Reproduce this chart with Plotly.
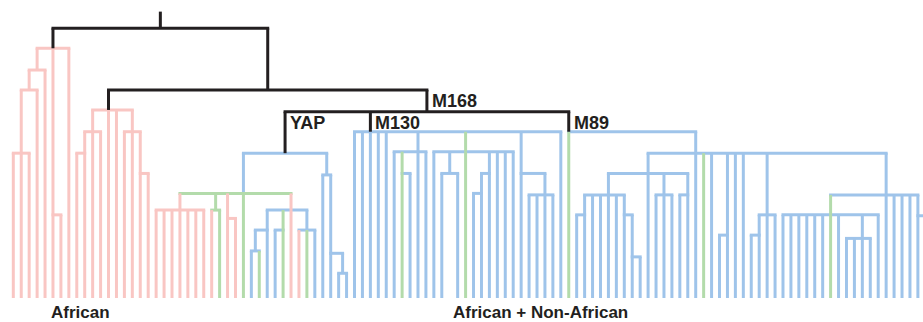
import plotly.graph_objects as go

# ---------------- data ----------------
# one code per leaf slot (left to right): A = African, N = non-African, M = mixed, '-' = empty slot
leaf_groups = (
    "AAAAAAAAAA"   # 0-9
    "AAAAAAAAAA"   # 10-19
    "AAAAAAMAAM"   # 20-29
    "NMNNMAAMNN"   # 30-39
    "NNNNNNNNNM"   # 40-49
    "NNNNN-NMNN"   # 50-59
    "NNNNNNNNNN"   # 60-69
    "MNNNNNNNNN"   # 70-79
    "NNNNNNNMNN"   # 80-89
    "NNNNNNNNNN"   # 90-99
    "NNNMNNNNNN"   # 100-109
    "NNNNNN"       # 110-115
)

# internal nodes: children (leaf slots or node names)
node_children = {
    "root": ["E", "n90"],
    "E": ["C", "D", 7],
    "C": ["B", 4],
    "B": ["A", 3],
    "A": [0, 1, 2],
    "D": [5, 6],
    "n90": ["J", "M168"],
    "J": ["G", 12, 13, "I"],
    "G": ["F", 10, 11],
    "F": [8, 9],
    "I": [14, 15, "H"],
    "H": [16, 17],
    "M168": ["YAP", "M130", "M89"],
    "YAP": ["Nn", "Q"],
    "Nn": ["K", "L", "Mn", 29, "S"],
    "K": [18, 19, 20, 21, 22, 23, 24],
    "L": [25, 26],
    "Mn": [27, 28],
    "S": ["T", "AB", 35, "U"],
    "T": ["V", 32],
    "V": [30, 31],
    "AB": [33, 34],
    "U": [36, 37, 38],
    "Q": [39, "P"],
    "P": [40, "O"],
    "O": [41, 42],
    "M130": [43, 44, 45, 46, 47, "W", "X", "AE", 69],
    "W": [48, "Z", 51, 52],
    "Z": [49, 50],
    "X": [53, "AA", 57, "AD", 61, 62, 63],
    "AA": [54, 56],
    "AD": ["AC", 60],
    "AC": [58, 59],
    "AE": [64, "AG"],
    "AG": [65, 66, 67, 68],
    "M89": [70, "AF"],
    "AF": ["AL", 86, 87, 88, "AP", 91, 92, "AR", "AU"],
    "AL": ["AK", 80, "AM", "AN"],
    "AK": ["AH", 73, 74, 75, 76, "AJ"],
    "AH": [71, 72],
    "AJ": [77, "AI"],
    "AI": [78, 79],
    "AM": [81, 82, 83],
    "AN": [84, 85],
    "AP": [89, 90],
    "AR": ["AQ", 95, 96],
    "AQ": [93, 94],
    "AU": ["AT", 110, 111, 112, 113, "AV"],
    "AT": [97, 98, 99, 100, 101, 102, 103, 104, "AS", 109],
    "AS": [105, 106, 107, 108],
    "AV": [114, 115],
}

# node depth values (leaves at 0)
node_height = {
    "root": 90.5, "E": 83.8, "C": 76.5, "B": 69.8, "A": 48.6, "D": 27.9,
    "n90": 69.8, "J": 63.1, "G": 55.8, "F": 48.6, "I": 55.8, "H": 41.8,
    "M168": 62.5, "YAP": 48.6, "Nn": 35.1, "K": 29.5, "L": 29.5, "Mn": 26.7,
    "S": 29.5, "T": 22.8, "V": 15.8, "AB": 22.8, "U": 22.8,
    "Q": 41.3, "P": 15.0, "O": 8.3,
    "M130": 55.8, "W": 49.1, "Z": 41.8, "X": 49.1, "AA": 41.8, "AD": 41.8, "AC": 35.1,
    "AE": 41.8, "AG": 34.6,
    "M89": 55.8, "AF": 48.6, "AL": 41.8, "AK": 34.6, "AH": 27.9, "AJ": 27.9, "AI": 13.8,
    "AM": 34.6, "AN": 34.6, "AP": 21.1, "AR": 27.9, "AQ": 21.1,
    "AU": 34.6, "AT": 27.9, "AS": 20.0, "AV": 27.6,
}
root_stem_top = 96.1

# group of each node's horizontal bar (default N)
bar_group = {
    "root": "K", "n90": "K", "M168": "K",
    "E": "A", "C": "A", "B": "A", "A": "A", "D": "A",
    "J": "A", "G": "A", "F": "A", "I": "A", "H": "A",
    "K": "A", "Mn": "A", "Nn": "M", "L": "M",
}
# group of each node's vertical stem (default N)
stem_group = {
    "root": "K", "E": "K", "n90": "K", "J": "K", "M168": "K",
    "YAP": "K", "M130": "K", "M89": "K",
    "C": "A", "B": "A", "A": "A", "D": "A", "G": "A", "F": "A", "I": "A", "H": "A",
    "K": "A", "Mn": "A", "S": "A",
    "L": "M", "AB": "M", "Z": "M", "X": "M", "AT": "M",
}
# stem drawn in line with this child (otherwise centred over the bar)
anchor_child = {
    "D": 5, "E": "D", "J": 12, "F": 9, "H": 16,
    "Nn": 29, "Mn": 27, "S": 35, "T": 32, "AB": 34, "P": 40,
    "M130": 45, "W": 51, "Z": 49, "X": 57, "AD": 60, "AC": 59,
    "M89": 70, "AE": 64, "AG": 67, "AF": 86, "AL": 80, "AK": 75, "AH": 72,
    "AJ": 77, "AI": 78, "AM": 82, "AN": 85, "AP": 90, "AR": 95, "AQ": 94,
    "AU": 110, "AT": 103, "AS": 107, "AV": 114,
}

node_labels = {"M168": "M168", "YAP": "YAP", "M130": "M130", "M89": "M89"}
group_labels = [("African", ["E", "J"]), ("African + Non-African", ["M168"])]

# ---------------- style ----------------
colors = {"A": "#F9C6C3", "N": "#9FC4EA", "M": "#B3DBAB", "K": "#231F20"}
draw_order = ["N", "M", "A", "K"]
W_PX, H_PX = 923, 322
MARGIN_B = 24
SLOT_PX = 7.935
FIRST_PX = 13.3
LINE_W = 3
Y_MAX = 100.0

x_min = -FIRST_PX / SLOT_PX
x_max = x_min + W_PX / SLOT_PX
half_x = (LINE_W / 2) / SLOT_PX

# ---------------- layout of the tree ----------------
parent = {}
for n, ch in node_children.items():
    for c in ch:
        parent[c] = n

xpos = {}


def place(n):
    if isinstance(n, int):
        return float(n)
    if n in xpos:
        return xpos[n]
    xs = [place(c) for c in node_children[n]]
    if n in anchor_child:
        x = place(anchor_child[n])
    else:
        x = (min(xs) + max(xs)) / 2
    xpos[n] = x
    return x


place("root")

segs = {g: ([], []) for g in colors}


def add(g, xs, ys):
    segs[g][0].extend(xs + [None])
    segs[g][1].extend(ys + [None])


for n, ch in node_children.items():
    h = node_height[n]
    cx = [place(c) for c in ch]
    add(bar_group.get(n, "N"), [min(cx) - half_x, max(cx) + half_x], [h, h])
    top = root_stem_top if n == "root" else node_height[parent[n]]
    add(stem_group.get(n, "N"), [xpos[n], xpos[n]], [h, top])

for i, g in enumerate(leaf_groups):
    if g == "-" or i not in parent:
        continue
    add(g, [float(i), float(i)], [0.0, node_height[parent[i]]])

fig = go.Figure()
for g in draw_order:
    xs, ys = segs[g]
    fig.add_trace(go.Scatter(x=xs, y=ys, mode="lines",
                             line=dict(color=colors[g], width=LINE_W),
                             hoverinfo="skip", showlegend=False))

font_family = "Liberation Sans, Arial, Helvetica, sans-serif"
annotations = []
for n, txt in node_labels.items():
    annotations.append(dict(
        x=xpos[n], y=node_height[parent[n]], xref="x", yref="y",
        text="<b>%s</b>" % txt, showarrow=False, xanchor="left", yanchor="middle",
        xshift=3, yshift=-11, font=dict(family=font_family, size=18, color="#231F20")))


def leaf_span(n):
    if isinstance(n, int):
        return [n]
    out = []
    for c in node_children[n]:
        out += leaf_span(c)
    return out


for txt, clades in group_labels:
    lv = []
    for c in clades:
        lv += leaf_span(c)
    annotations.append(dict(
        x=(min(lv) + max(lv)) / 2, y=0, xref="x", yref="paper",
        text="<b>%s</b>" % txt, showarrow=False, xanchor="center", yanchor="middle",
        yshift=-14, borderpad=0, font=dict(family=font_family, size=17, color="#231F20")))

fig.update_layout(
    width=W_PX, height=H_PX,
    margin=dict(l=0, r=0, t=0, b=MARGIN_B),
    paper_bgcolor="white", plot_bgcolor="white",
    xaxis=dict(range=[x_min, x_max], visible=False, fixedrange=True),
    yaxis=dict(range=[0, Y_MAX], visible=False, fixedrange=True),
    annotations=annotations,
    showlegend=False,
)

fig.write_html(
    "out.html",
    config={"displayModeBar": False},
    post_script="document.body.style.margin='0';document.body.style.overflow='hidden';",
)
